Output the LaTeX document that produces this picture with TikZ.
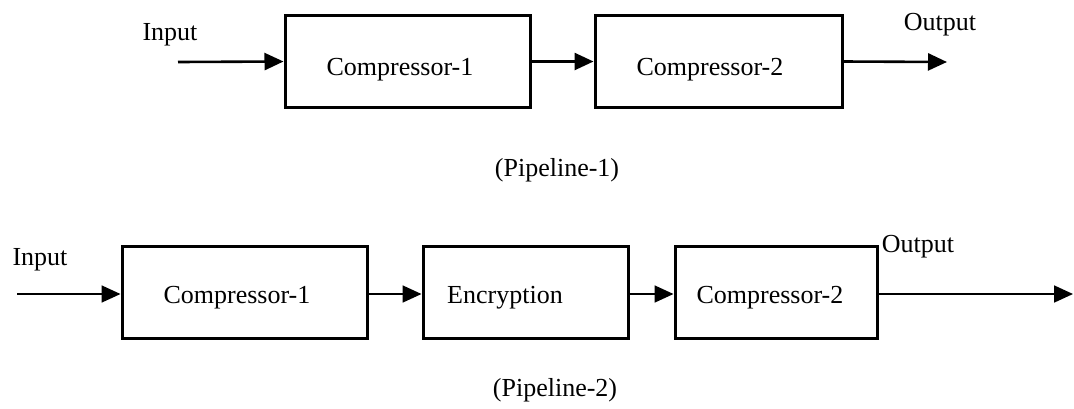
\documentclass[tikz,border=0pt]{standalone}
\usepackage{fontspec}
\setmainfont{Liberation Serif}
\usetikzlibrary{arrows.meta}
\begin{document}
\begin{tikzpicture}[x=1pt,y=1pt,
  stage/.style={draw=black, line width=3pt, inner sep=0pt, minimum height=92pt},
  caption/.style={font=\fontsize{26}{30}\selectfont, inner sep=0pt},
  flow/.style={line width=2.6pt, -{Triangle[length=19pt,width=17pt]}},
  flowthin/.style={line width=1.8pt, -{Triangle[length=19pt,width=17pt]}}]
\useasboundingbox (0,0) rectangle (1074,-408);

% Pipeline 1: two compressors in a row
\node[stage, minimum width=245pt] (a1) at (407.5,-61.5) {};
\node[stage, minimum width=247pt] (a2) at (718.5,-61.5) {};
\node[caption] (a1t) at (400,-70) {Compressor-1};
\node[caption] (a2t) at (710,-70) {Compressor-2};
\node[caption] (ain) at (170,-35) {Input};
\node[caption] (aout) at (940,-25) {Output};
\coordinate (aina) at (178,-62);
\coordinate (aouta) at (947,-62);
\draw[flow] (aina) -- (a1.west);
\draw[flow] (a1.east) -- (a2.west);
\draw[flow] (a2.east) -- (aouta);
\node[caption] (p1) at (557,-170) {(Pipeline-1)};

% Pipeline 2: compressor, encryption, compressor
\node[stage, minimum width=245pt] (b1) at (244.5,-292) {};
\node[stage, minimum width=205pt] (b2) at (525.5,-292) {};
\node[stage, minimum width=202pt] (b3) at (776,-292) {};
\node[caption] (b1t) at (237,-298) {Compressor-1};
\node[caption] (b2t) at (505,-298) {Encryption};
\node[caption] (b3t) at (770,-298) {Compressor-2};
\node[caption] (bin) at (40,-260) {Input};
\node[caption] (bout) at (918,-247) {Output};
\coordinate (bina) at (17,-294);
\coordinate (bouta) at (1073,-294);
\draw[flowthin] (bina) -- (bina -| b1.west);
\draw[flowthin] (b1.east |- bina) -- (b2.west |- bina);
\draw[flowthin] (b2.east |- bina) -- (b3.west |- bina);
\draw[flowthin] (b3.east |- bina) -- (bouta);
\node[caption] (p2) at (555,-390) {(Pipeline-2)};
\end{tikzpicture}
\end{document}
